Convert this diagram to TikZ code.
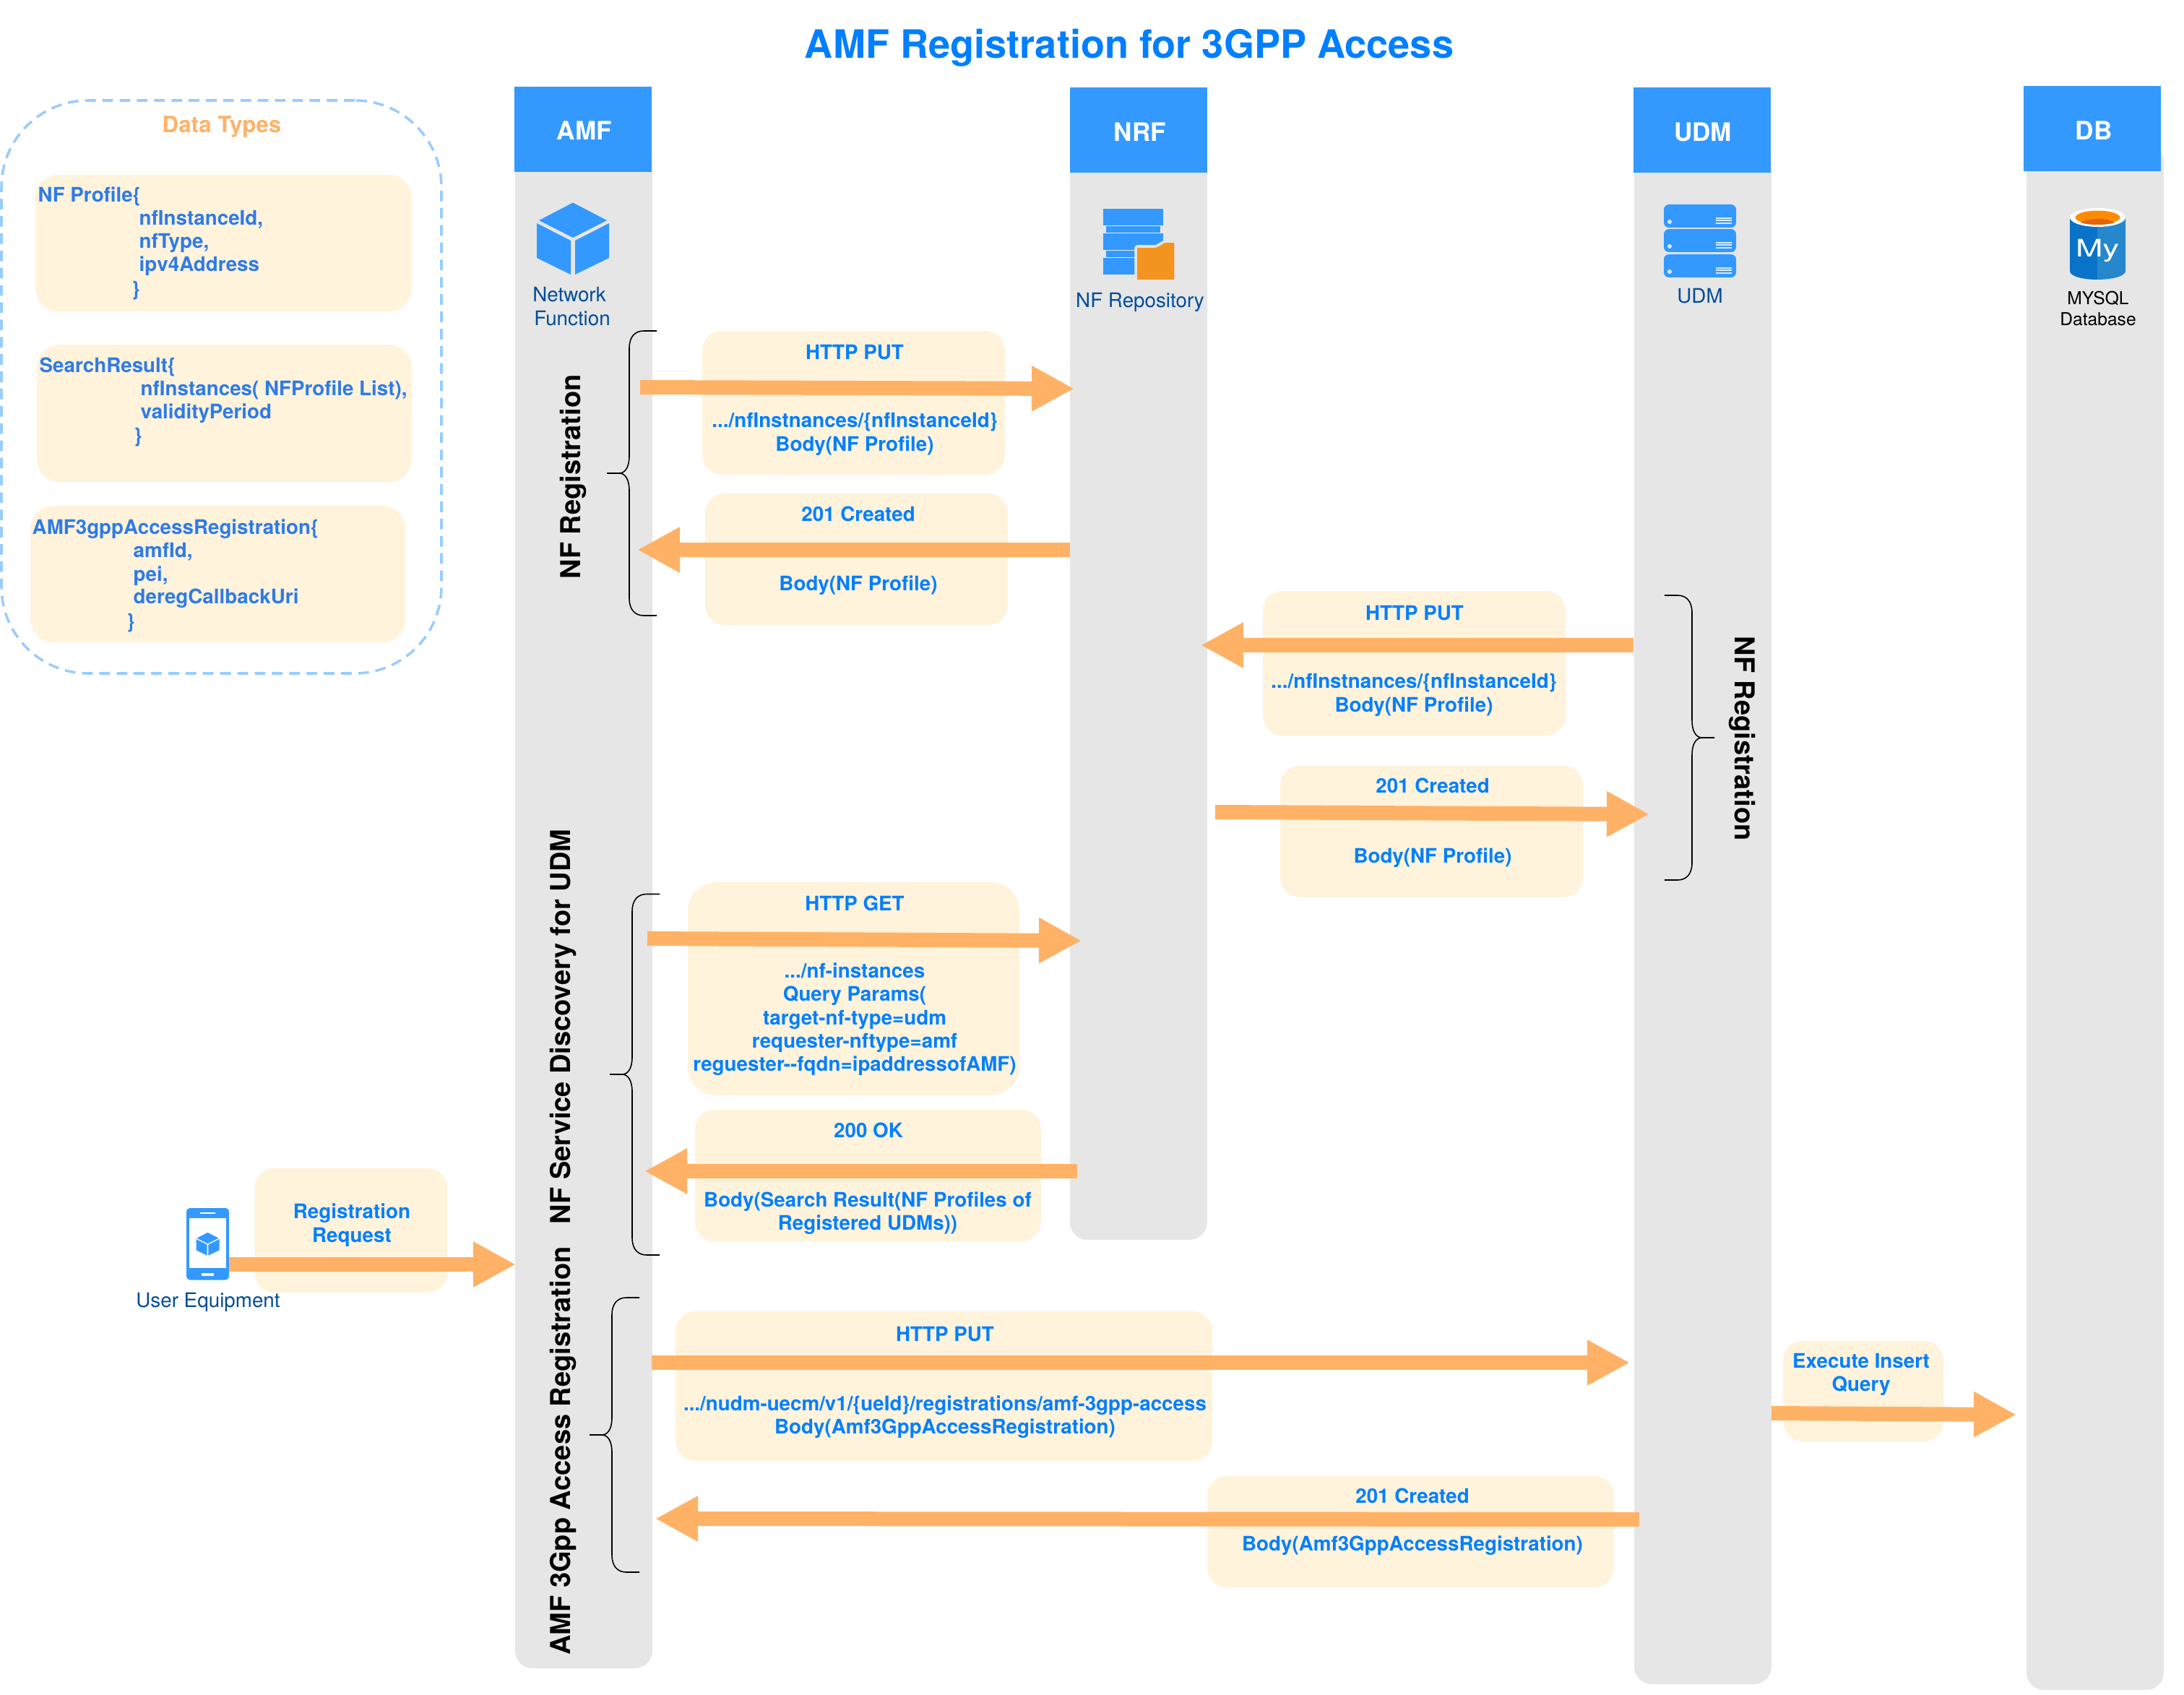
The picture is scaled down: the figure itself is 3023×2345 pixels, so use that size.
\documentclass[tikz,border=0pt]{standalone}
\usepackage{fontspec}
\setmainfont{TeX Gyre Heros}
\usetikzlibrary{arrows.meta}

\definecolor{headblue}{HTML}{3399FF}
\definecolor{lanegray}{HTML}{E6E6E6}
\definecolor{boxcream}{HTML}{FFF3DB}
\definecolor{arroworange}{HTML}{FFB266}
\definecolor{msgblue}{HTML}{007FFF}
\definecolor{typeblue}{HTML}{2E7BE6}
\definecolor{labelblue}{HTML}{004C99}
\definecolor{dashblue}{HTML}{99CCFF}
\definecolor{folderorange}{HTML}{F49420}
\definecolor{dbdark}{HTML}{0873C9}
\definecolor{dblight}{HTML}{2787CC}
\definecolor{dbtop}{HTML}{FF8C00}
\definecolor{dbinner}{HTML}{E3640A}
\definecolor{icondetail}{HTML}{D9EBFF}

\tikzset{
    lanebody/.style={fill=lanegray, rounded corners=2.4mm, inner sep=0pt, minimum width=1.9cm},
    lanehead/.style={fill=headblue, text=white, inner sep=0pt, minimum width=1.9cm, minimum height=1.18cm},
    headtext/.style={text=white, font=\fontsize{10}{12}\selectfont\bfseries},
    msgbox/.style={fill=boxcream, rounded corners=2.7mm, inner sep=0pt},
    msgtext/.style={text=msgblue, align=center, inner sep=0pt, font=\fontsize{7.9}{9.2}\selectfont\bfseries},
    typebox/.style={fill=boxcream, rounded corners=3.2mm, inner sep=0pt},
    typetext/.style={text=typeblue, anchor=west, inner sep=0pt, font=\fontsize{7.9}{9.2}\selectfont\bfseries},
    msgarrow/.style={draw=arroworange, line width=2mm, -{Triangle[length=5.9mm,width=5.9mm]}},
    grpline/.style={draw=black, line width=0.45pt},
    grptext/.style={text=black, inner sep=0pt, font=\fontsize{10.8}{12}\selectfont\bfseries},
    iconlabel/.style={text=labelblue, align=center, inner sep=0pt, font=\fontsize{7.9}{9.2}\selectfont},
    dblabel/.style={text=black, inner sep=0pt, font=\fontsize{7}{8}\selectfont},
    cubeicon/.pic={
        \fill (0,-50.5) -- (47,-26) -- (0,-2) -- (-47,-26) -- cycle;
        \fill (-50,-22) -- (-3,2) -- (-3,49) -- (-50,26) -- cycle;
        \fill (50,-22) -- (3,2) -- (3,49) -- (50,26) -- cycle;
    }
}

\newcommand{\grpbrace}[5]{
    \begin{scope}[shift={(#1,0)}, xscale=#2]
        \draw[grpline] (38,#3) -- (20,#3) .. controls (8,#3) and (0,#3+8) .. (0,#3+24)
            -- (0,#4-24) .. controls (0,#4-8) and (-6,#4) .. (-14,#4) -- (-31,#4)
            -- (-14,#4) .. controls (-6,#4) and (0,#4+8) .. (0,#4+24)
            -- (0,#5-24) .. controls (0,#5-8) and (8,#5) .. (20,#5) -- (38,#5);
    \end{scope}
}

\begin{document}
\begin{tikzpicture}[x=0.1mm, y=-0.1mm]
    \useasboundingbox (0,0) rectangle (3023,2345);

    \node[text=msgblue, inner sep=0pt, font=\fontsize{15.4}{18}\selectfont\bfseries] (title) at (1563,66) {AMF Registration for 3GPP Access};

    \node[draw=dashblue, line width=1pt, dash pattern=on 4.2pt off 2.6pt, rounded corners=1.2cm, inner sep=0pt, minimum width=6.09cm, minimum height=7.93cm] (typesframe) at (306.5,535.5) {};
    \node[text=arroworange, inner sep=0pt, font=\fontsize{8.9}{11}\selectfont\bfseries] (typestitle) at (307,176) {Data Types};

    \node[typebox, minimum width=5.21cm, minimum height=1.89cm] (profilebox) at (309.5,336.5) {};
    \node[typetext] (profile0) at (52,272) {NF Profile\{};
    \node[typetext] (profile1) at (192,304) {nfInstanceId,};
    \node[typetext] (profile2) at (192,336) {nfType,};
    \node[typetext] (profile3) at (192,368) {ipv4Address};
    \node[typetext] (profile4) at (182,402) {\}};

    \node[typebox, minimum width=5.19cm, minimum height=1.90cm] (searchbox) at (310.5,572) {};
    \node[typetext] (search0) at (54,508) {SearchResult\{};
    \node[typetext] (search1) at (194,540) {nfInstances( NFProfile List),};
    \node[typetext] (search2) at (194,572) {validityPeriod};
    \node[typetext] (search3) at (185,605) {\}};

    \node[typebox, minimum width=5.19cm, minimum height=1.89cm] (accessbox) at (301.5,794.5) {};
    \node[typetext] (access0) at (44,732) {AMF3gppAccessRegistration\{};
    \node[typetext] (access1) at (184,764) {amfId,};
    \node[typetext] (access2) at (184,797) {pei,};
    \node[typetext] (access3) at (184,828) {deregCallbackUri};
    \node[typetext] (access4) at (175,862) {\}};

    \node[lanebody, minimum height=21.09cm] (amfbody) at (808,1254.5) {};
    \node[lanebody, minimum height=15.16cm] (nrfbody) at (1576,958) {};
    \node[lanebody, minimum height=21.31cm] (udmbody) at (2357,1265.5) {};
    \node[lanebody, minimum height=21.39cm] (dbbody) at (2900,1269.5) {};

    \node[lanehead] (amf) at (807,179) {};
    \node[lanehead] (nrf) at (1576,180) {};
    \node[lanehead] (udm) at (2356,180) {};
    \node[lanehead] (db) at (2895.5,178) {};
    \node[headtext] (amftext) at (809,181) {AMF};
    \node[headtext] (nrftext) at (1578,183) {NRF};
    \node[headtext] (udmtext) at (2357,183) {UDM};
    \node[headtext] (dbtext) at (2898,181) {DB};

    \pic[fill=headblue] at (793,331) {cubeicon};
    \node[iconlabel] (nflabel1) at (788,408) {Network};
    \node[iconlabel] (nflabel2) at (792,441) {Function};

    \foreach \boxtop in {289,323,357} {
        \fill[headblue] (1527,\boxtop) rectangle (1610,\boxtop+23.5);
    }
    \foreach \striptop in {313,347} {
        \fill[headblue] (1531,\striptop) rectangle (1606,\striptop+9);
    }
    \filldraw[fill=folderorange, draw=white!90!black, line width=1pt, rounded corners=0.5pt] (1572,389) -- (1572,341) -- (1600,341) -- (1612,334) -- (1627,334) -- (1627,389) -- cycle;
    \node[iconlabel] (nrflabel) at (1578,418) {NF Repository};

    \foreach \rowtop in {283,317,352} {
        \fill[headblue, rounded corners=0.7mm] (2303,\rowtop) rectangle (2403,\rowtop+32);
        \fill[icondetail] (2311,\rowtop+24) circle[radius=3];
        \fill[icondetail] (2375,\rowtop+18) rectangle (2397,\rowtop+20);
        \fill[icondetail] (2375,\rowtop+21.5) rectangle (2397,\rowtop+23.5);
        \fill[icondetail] (2375,\rowtop+25) rectangle (2397,\rowtop+27);
    }
    \node[iconlabel] (udmlabel) at (2353,410) {UDM};

    \fill[dbdark] (2865,300) -- (2865,375) .. controls (2865,383) and (2885,387) .. (2903,387) -- (2903,300) -- cycle;
    \fill[dblight] (2942,300) -- (2942,375) .. controls (2942,383) and (2921,387) .. (2903,387) -- (2903,300) -- cycle;
    \fill[white] (2903.5,301) ellipse[x radius=38.5, y radius=13];
    \fill[dbtop] (2903.5,301) ellipse[x radius=31, y radius=9.5];
    \fill[dbinner] (2880,308) .. controls (2890,301) and (2917,301) .. (2927,308) .. controls (2917,312) and (2890,312) .. (2880,308) -- cycle;
    \node[text=white, inner sep=0pt, xscale=1.35, font=\fontsize{9.5}{11}\selectfont] (mylogo) at (2903,347) {My};
    \node[dblabel] (dblabel1) at (2904,413) {MYSQL};
    \node[dblabel] (dblabel2) at (2904,442) {Database};

    \fill[headblue, rounded corners=0.5mm] (258,1672) rectangle (317,1771.5);
    \fill[white] (262,1685.5) rectangle (313,1755);
    \fill[white] (276.5,1677.5) rectangle (298,1680);
    \fill[white] (278.5,1761.5) rectangle (296,1766);
    \pic[fill=headblue, scale=0.32] at (287.5,1722) {cubeicon};
    \node[iconlabel] (uelabel) at (288,1802) {User Equipment};

    \node[msgbox, minimum width=4.19cm, minimum height=1.99cm] (putbox) at (1181.5,557.5) {};
    \node[msgbox, minimum width=4.19cm, minimum height=1.82cm] (createdbox) at (1185.5,774) {};
    \node[msgbox, minimum width=4.19cm, minimum height=2.00cm] (udmputbox) at (1957.5,918) {};
    \node[msgbox, minimum width=4.19cm, minimum height=1.82cm] (udmcreatedbox) at (1981.5,1151) {};
    \node[msgbox, rounded corners=4mm, minimum width=4.59cm, minimum height=2.95cm] (getbox) at (1181.5,1368.5) {};
    \node[msgbox, minimum width=4.79cm, minimum height=1.82cm] (okbox) at (1201.5,1627) {};
    \node[msgbox, minimum width=2.665cm, minimum height=1.72cm] (reqbox) at (485.75,1703) {};
    \node[msgbox, minimum width=7.43cm, minimum height=2.07cm] (accputbox) at (1306.5,1918.5) {};
    \node[msgbox, minimum width=5.63cm, minimum height=1.54cm] (acccreatedbox) at (1952.5,2120) {};
    \node[msgbox, minimum width=2.22cm, minimum height=1.39cm] (insertbox) at (2579,1925.5) {};

    \node[msgtext] (put1) at (1183,488) {HTTP PUT};
    \node[msgtext] (put2) at (1183,601) {.../nfInstnances/\{nfInstanceId\}\\Body(NF Profile)};
    \node[msgtext] (created1) at (1188,711) {201 Created};
    \node[msgtext] (created2) at (1188,810) {Body(NF Profile)};
    \node[msgtext] (udmput1) at (1958,849) {HTTP PUT};
    \node[msgtext] (udmput2) at (1957,962) {.../nfInstnances/\{nfInstanceId\}\\Body(NF Profile)};
    \node[msgtext] (udmcreated1) at (1983,1087) {201 Created};
    \node[msgtext] (udmcreated2) at (1983,1187) {Body(NF Profile)};
    \node[msgtext] (get1) at (1183,1250) {HTTP GET};
    \node[msgtext] (get2) at (1183,1411) {.../nf-instances\\Query Params(\\target-nf-type=udm\\requester-nftype=amf\\reguester-{}-fqdn=ipaddressofAMF)};
    \node[msgtext] (ok1) at (1202,1564) {200 OK};
    \node[msgtext] (ok2) at (1201,1679) {Body(Search Result(NF Profiles of\\Registered UDMs))};
    \node[msgtext] (req) at (487,1695.5) {Registration\\Request};
    \node[msgtext] (accput1) at (1308,1847) {HTTP PUT};
    \node[msgtext] (accput2) at (1308,1961) {.../nudm-uecm/v1/\{ueId\}/registrations/amf-3gpp-access\\Body(Amf3GppAccessRegistration)};
    \node[msgtext] (acccreated1) at (1955,2070) {201 Created};
    \node[msgtext] (acccreated2) at (1955,2139) {Body(Amf3GppAccessRegistration)};
    \node[msgtext] (insert) at (2576,1902.5) {Execute Insert\\Query};

    \coordinate (a1) at (886,536);
    \coordinate (b1) at (1487,538);
    \coordinate (a2) at (1481,761);
    \coordinate (b2) at (882,761);
    \coordinate (a3) at (2261,893);
    \coordinate (b3) at (1662,893);
    \coordinate (a4) at (1682,1124);
    \coordinate (b4) at (2283,1127);
    \coordinate (a5) at (896,1299);
    \coordinate (b5) at (1497,1302);
    \coordinate (a6) at (1491,1621);
    \coordinate (b6) at (892,1621);
    \coordinate (a7) at (317,1750);
    \coordinate (b7) at (714,1750);
    \coordinate (a8) at (902,1886);
    \coordinate (b8) at (2256,1886);
    \coordinate (a9) at (2269,2103);
    \coordinate (b9) at (907,2102);
    \coordinate (a10) at (2452,1956);
    \coordinate (b10) at (2791,1958);

    \draw[msgarrow] (a1) -- (b1);
    \draw[msgarrow] (a2) -- (b2);
    \draw[msgarrow] (a3) -- (b3);
    \draw[msgarrow] (a4) -- (b4);
    \draw[msgarrow] (a5) -- (b5);
    \draw[msgarrow] (a6) -- (b6);
    \draw[msgarrow] (a7) -- (b7);
    \draw[msgarrow] (a8) -- (b8);
    \draw[msgarrow] (a9) -- (b9);
    \draw[msgarrow] (a10) -- (b10);

    \grpbrace{871}{1}{458}{655}{852}
    \grpbrace{875}{1}{1237.5}{1487}{1737}
    \grpbrace{847}{1}{1796}{1986}{2176}
    \grpbrace{2342}{-1}{824}{1021}{1218}

    \node[grptext, rotate=90] (nfreg) at (793,660) {NF Registration};
    \node[grptext, rotate=90] (nfdisc) at (780,1421) {NF Service Discovery for UDM};
    \node[grptext, rotate=90] (amfreg) at (779,2008) {AMF 3Gpp Access Registration};
    \node[grptext, rotate=-90] (udmreg) at (2411,1022) {NF Registration};
\end{tikzpicture}
\end{document}
